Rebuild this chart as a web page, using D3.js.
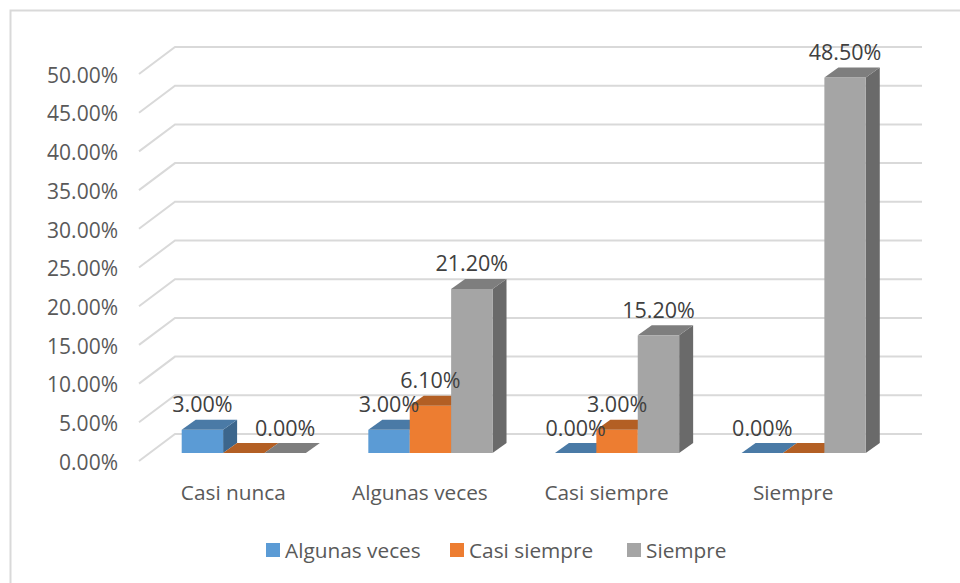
<!DOCTYPE html>
<html>
<head>
<meta charset="utf-8">
<script src="https://cdn.jsdelivr.net/npm/d3@7/dist/d3.min.js"></script>
<style>
html,body{margin:0;padding:0;background:#fff;}
svg{display:block;}
text{font-family:"Open Sans",sans-serif;}
</style>
</head>
<body>
<div id="chart"></div>
<script>
var categories=["Casi nunca","Algunas veces","Casi siempre","Siempre"];
var seriesNames=["Algunas veces","Casi siempre","Siempre"];
var algunasVeces=[3.0,3.0,0.0,0.0];
var casiSiempre=[0.0,6.1,3.0,0.0];
var siempre=[0.0,21.2,15.2,48.5];
// the source hides these two labels (orange zero bars)
var hiddenLabels=["0-1","3-1"];
var seriesValues=[algunasVeces,casiSiempre,siempre];
var yTicks=[0,5,10,15,20,25,30,35,40,45,50];
var frontColors=["#5b9bd5","#ed7d31","#a5a5a5"];
var topColors=["#4a7aa6","#b35f24","#7e7e7e"];
var sideColors=["#3c668c","#a0521f","#6a6a6a"];

var width=960,height=583;
var svg=d3.select("#chart").append("svg").attr("width",width).attr("height",height);

//======================frame, cut by the picture on the right and bottom===========================
svg.append("polyline").attr("points","10.5,583 10.5,10.5 960,10.5")
	.attr("fill","none").attr("stroke","#d9d9d9").attr("stroke-width",2);

//======================scales===========================
var wallDx=36,wallDy=27;      // depth of the whole box
var barDx=14,barDy=10;        // depth of one bar
var barInDx=11,barInDy=8;     // bars stand a bit inside the floor
var x=d3.scaleBand().domain(categories).range([139,885.5]);
var y=d3.scaleLinear().domain([0,50]).range([461,74]);
var inner=d3.scaleBand().domain(seriesNames).range([31.7,155.9]);

//======================grid===========================
svg.append("g").selectAll("polyline").data(yTicks).enter().append("polyline")
	.attr("points",function(d){
		var y0=y(d);
		return [[139,y0],[139+wallDx,y0-wallDy],[886+wallDx,y0-wallDy]].join(" ");
	})
	.attr("fill","none").attr("stroke","#d9d9d9").attr("stroke-width",2);

//======================axis labels===========================
var yAxis=svg.append("g").attr("transform","translate(118,1.5)")
	.call(d3.axisLeft(y).tickValues(yTicks).tickSize(0).tickPadding(0).tickFormat(function(d){return d.toFixed(2)+"%";}));
yAxis.select(".domain").remove();
yAxis.selectAll("text").attr("fill","#595959").style("font-size","21px").style("font-family","'Open Sans',sans-serif");

var xAxis=svg.append("g").attr("transform","translate(1,493)")
	.call(d3.axisBottom(x).tickSize(0).tickPadding(0));
xAxis.select(".domain").remove();
xAxis.selectAll("text").attr("fill","#595959").attr("y",0).attr("dy","0.35em")
	.style("font-size","20.8px").style("font-family","'Open Sans',sans-serif");

//======================bars===========================
var bars=[];
categories.forEach(function(c,i){
	seriesNames.forEach(function(s,k){
		bars.push({cat:c,i:i,k:k,series:s,value:seriesValues[k][i]});
	});
});
var g=svg.append("g");
bars.forEach(function(d){
	var x0=x(d.cat)+inner(d.series)+barInDx,x1=x0+inner.bandwidth();
	var y0=y(0)-barInDy,yt=y(d.value)-barInDy;
	g.append("polygon").attr("fill",sideColors[d.k])
		.attr("points",[[x1,yt],[x1+barDx,yt-barDy],[x1+barDx,y0-barDy],[x1,y0]].join(" "));
	g.append("rect").attr("fill",frontColors[d.k])
		.attr("x",x0).attr("y",yt).attr("width",x1-x0).attr("height",y0-yt);
	g.append("polygon").attr("fill",topColors[d.k])
		.attr("points",[[x0,yt],[x0+barDx,yt-barDy],[x1+barDx,yt-barDy],[x1,yt]].join(" "));
});

//======================data labels===========================
svg.append("g").selectAll("text")
	.data(bars.filter(function(d){return hiddenLabels.indexOf(d.i+"-"+d.k)<0;}))
	.enter().append("text")
	.attr("x",function(d){return x(d.cat)+inner(d.series)+barInDx+inner.bandwidth()/2;})
	.attr("y",function(d){return y(d.value)-barInDy-barDy-15;})
	.attr("dy","0.35em").attr("text-anchor","middle")
	.attr("fill","#404040").style("font-size","21.5px")
	.text(function(d){return d.value.toFixed(2)+"%";});

//======================legend===========================
var legendX=[266,450,627];
var legend=svg.append("g").selectAll("g").data(seriesNames).enter().append("g")
	.attr("transform",function(d,i){return "translate("+legendX[i]+",550)";});
legend.append("rect").attr("x",0).attr("y",-7).attr("width",14).attr("height",14)
	.attr("fill",function(d,i){return frontColors[i];});
legend.append("text").attr("x",19).attr("y",1).attr("dy","0.35em")
	.attr("fill","#595959").style("font-size","20.8px").text(function(d){return d;});
</script>
</body>
</html>
